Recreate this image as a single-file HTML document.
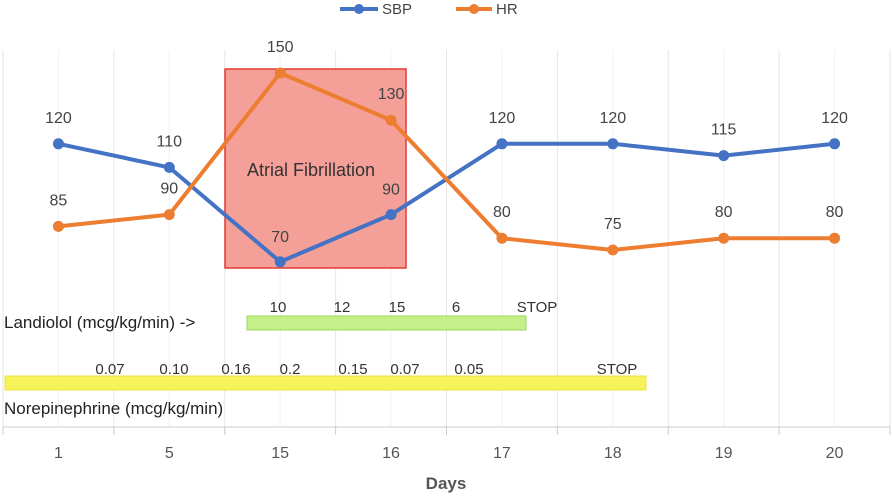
<!DOCTYPE html>
<html><head><meta charset="utf-8"><style>
body{margin:0;background:#fff;}
svg{display:block;font-family:"Liberation Sans",sans-serif;}
</style></head><body>
<svg id="chart" width="892" height="496" viewBox="0 0 892 496">
<g id="grid"></g>
<rect x="225" y="69" width="181" height="199" fill="#f4a098" stroke="#e23a30" stroke-width="1.5"/>
<text x="311" y="176" font-size="18" fill="#333" text-anchor="middle">Atrial Fibrillation</text>
<g id="series"></g>
<g id="axis"></g>
<text x="446" y="489" font-size="17" font-weight="bold" fill="#555" text-anchor="middle">Days</text>
<g>
<g><line x1="340" y1="9" x2="378" y2="9" stroke="#4472c4" stroke-width="4"/><circle cx="359" cy="9" r="5" fill="#4472c4"/><text x="382" y="14" font-size="15" fill="#444">SBP</text></g>
<g><line x1="456" y1="9" x2="492" y2="9" stroke="#ed7d31" stroke-width="4"/><circle cx="474" cy="9" r="5" fill="#ed7d31"/><text x="496" y="14" font-size="15" fill="#444">HR</text></g>
</g>
<g>
<text x="4" y="328" font-size="17" fill="#222">Landiolol (mcg/kg/min) -&gt;</text>
<rect x="247" y="316" width="279" height="14" fill="#c4f08a" stroke="#9fd45c"/>
<text x="278" y="312" font-size="15" fill="#333" text-anchor="middle">10</text>
<text x="342" y="312" font-size="15" fill="#333" text-anchor="middle">12</text>
<text x="397" y="312" font-size="15" fill="#333" text-anchor="middle">15</text>
<text x="456" y="312" font-size="15" fill="#333" text-anchor="middle">6</text>
<text x="537" y="312" font-size="15" fill="#333" text-anchor="middle">STOP</text>
</g>
<g>
<rect x="5" y="376" width="641" height="14" fill="#f6f35a" stroke="#eee040"/>
<text x="4" y="414" font-size="17" fill="#222">Norepinephrine (mcg/kg/min)</text>
<text x="110" y="374" font-size="15" fill="#333" text-anchor="middle">0.07</text>
<text x="174" y="374" font-size="15" fill="#333" text-anchor="middle">0.10</text>
<text x="236" y="374" font-size="15" fill="#333" text-anchor="middle">0.16</text>
<text x="290" y="374" font-size="15" fill="#333" text-anchor="middle">0.2</text>
<text x="353" y="374" font-size="15" fill="#333" text-anchor="middle">0.15</text>
<text x="405" y="374" font-size="15" fill="#333" text-anchor="middle">0.07</text>
<text x="469" y="374" font-size="15" fill="#333" text-anchor="middle">0.05</text>
<text x="617" y="374" font-size="15" fill="#333" text-anchor="middle">STOP</text>
</g>
</svg>
<script>
const categories = ["1","5","15","16","17","18","19","20"];
const sbpValues = [120,110,70,90,120,120,115,120];
const hrValues = [85,90,150,130,80,75,80,80];
const NS="http://www.w3.org/2000/svg";
const x0=3,x1=890,axisY=427;
const band=(x1-x0)/categories.length;
function xPos(i){return x0+band*(i+0.5);}
function yPos(v){return 427-2.36*v;}
function mk(tag,attrs,parent){const e=document.createElementNS(NS,tag);for(const k in attrs)e.setAttribute(k,attrs[k]);parent.appendChild(e);return e;}
const grid=document.getElementById('grid'),axis=document.getElementById('axis'),series=document.getElementById('series');
for(let i=0;i<=categories.length;i++){
  const gx=x0+band*i;
  const g=mk('line',{x1:gx,y1:50,x2:gx,y2:axisY,stroke:'#e6e6e6'},grid);
  
  
  const t=mk('line',{x1:gx,y1:axisY,x2:gx,y2:axisY+8,stroke:'#ccc'},axis);
  
  
}
categories.forEach((c,i)=>{
  const g=mk('line',{x1:xPos(i),y1:50,x2:xPos(i),y2:axisY,stroke:'#f2f2f2'},grid);
  
  
  const t=mk('text',{x:xPos(i),y:458,'font-size':16,fill:'#555','text-anchor':'middle'},axis);
  t.textContent=c;
  
  
});
const al=mk('line',{x1:x0,y1:axisY,x2:x1,y2:axisY,stroke:'#ccc'},axis);


function drawSeries(vals,color,name,labelOffsets){
  const pts=vals.map((v,i)=>xPos(i)+','+yPos(v)).join(' ');
  const pl=mk('polyline',{points:pts,fill:'none',stroke:color,'stroke-width':4,'stroke-linejoin':'round'},series);
  
  
  vals.forEach((v,i)=>{
    const c=mk('circle',{cx:xPos(i),cy:yPos(v),r:5.5,fill:color},series);
    
    
    const t=mk('text',{x:xPos(i),y:yPos(v)+labelOffsets[i],'font-size':16,fill:'#444','text-anchor':'middle'},series);
    t.textContent=v;
    
    
  });
}
drawSeries(sbpValues,'#4472c4','sbp',[-21,-21,-20,-20,-21,-21,-21,-21]);
drawSeries(hrValues,'#ed7d31','hr',[-21,-21,-21,-21,-21,-21,-21,-21]);
</script>
</body></html>
